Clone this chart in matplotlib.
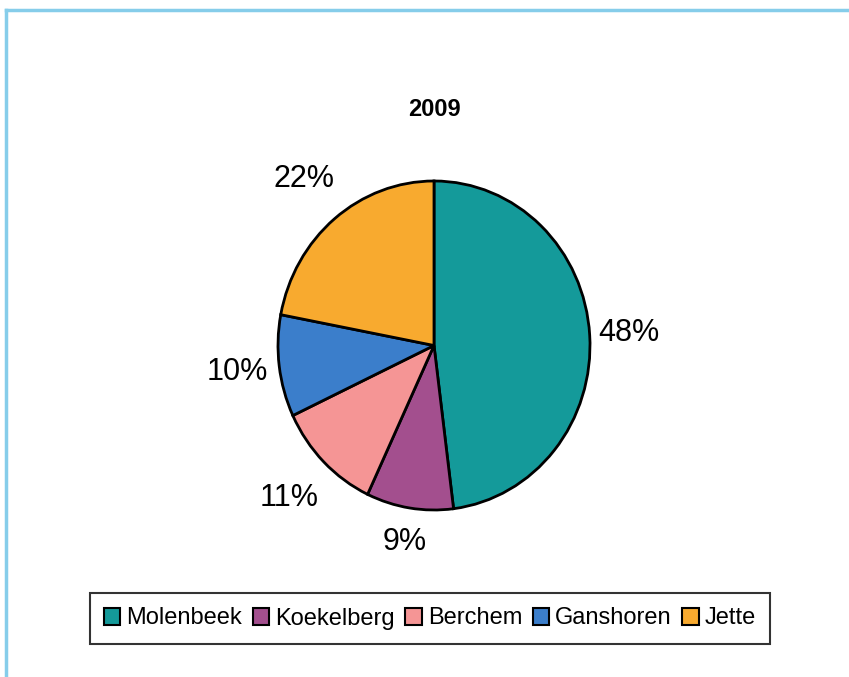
import numpy as np
import matplotlib.pyplot as plt
from matplotlib.lines import Line2D
from matplotlib.patches import Patch

plt.rcParams['font.family'] = ['Liberation Sans', 'DejaVu Sans']

communes = ["Molenbeek", "Koekelberg", "Berchem", "Ganshoren", "Jette"]
parts = [48, 9, 11, 10, 22]
couleurs = ["#149A9A", "#A34F8E", "#F59595", "#3B7ECB", "#F8AA2F"]
# distance des etiquettes (en rayons)
dist_etiq = [1.25, 1.21, 1.31, 1.27, 1.31]

W, H = 849, 677
fig = plt.figure(figsize=(W / 100, H / 100), dpi=100)

# cadre bleu clair (haut et gauche)
fig.add_artist(Line2D([6 / W, 1], [1 - 10 / H, 1 - 10 / H], color="#86CDEA", lw=2.5))
fig.add_artist(Line2D([6 / W, 6 / W], [0, 1 - 10 / H], color="#86CDEA", lw=2.5))

cx, cy, rx, ry = 434, 345.5, 156, 164.5
ax = fig.add_axes([(cx - rx) / W, (H - cy - ry) / H, 2 * rx / W, 2 * ry / H])
wedges, textes = ax.pie(parts, colors=couleurs, startangle=90, counterclock=False,
                        labels=[f"{p}%" for p in parts], labeldistance=1.28,
                        wedgeprops=dict(edgecolor="black", linewidth=2),
                        textprops=dict(fontsize=22))
for w, t, d in zip(wedges, textes, dist_etiq):
    a = np.deg2rad((w.theta1 + w.theta2) / 2)
    t.set_position((d * np.cos(a), d * np.sin(a)))
    t.set_horizontalalignment("center")
    t.set_verticalalignment("center")
ax.set_xlim(-1, 1)
ax.set_ylim(-1, 1)
ax.set_aspect("auto")

fig.text(cx / W, 1 - 109 / H, "2009", ha="center", va="center", fontsize=17, fontweight="bold")

poignees = [Patch(facecolor=c, edgecolor="black", linewidth=1.5) for c in couleurs]
leg = fig.legend(poignees, communes, loc="center", bbox_to_anchor=(430 / W, 1 - 618.5 / H),
                 ncol=5, fontsize=17, frameon=True, fancybox=False, edgecolor="black",
                 handlelength=0.7, handleheight=0.7, handletextpad=0.25, columnspacing=0.45,
                 borderpad=0.6)
leg.get_frame().set_linewidth(1.5)

fig.savefig("out.png", dpi=100)
